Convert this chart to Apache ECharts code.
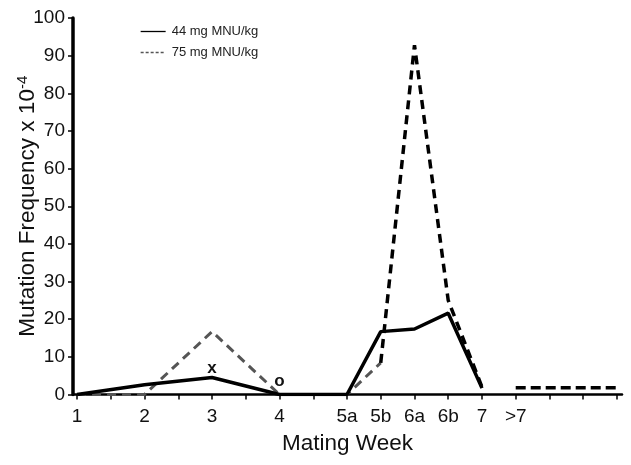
<!DOCTYPE html>
<html><head><meta charset="utf-8">
<script src="https://cdn.jsdelivr.net/npm/echarts@6/dist/echarts.min.js"></script>
<style>html,body{margin:0;padding:0;background:#fff}#c{width:631px;height:465px}</style>
</head><body><div id="c"></div>
<script>
// Mating week categories and their positions on the (half-week) axis scale
const weekLabels = ['1', '2', '3', '4', '5a', '5b', '6a', '6b', '7', '>7'];
const weekPos = [0, 2, 4, 6, 8, 9, 10, 11, 12, 13];
const axisTicks = [0, 1, 2, 3, 4, 5, 6, 7, 8, 9, 10, 11, 12, 13, 14, 15, 16];
const yTicks = [0, 10, 20, 30, 40, 50, 60, 70, 80, 90, 100];
// Mutation frequency x 10^-4
const dose44 = [0, 2.6, 4.5, 0, 0, 16.7, 17.4, 21.6, 1.7, null];
const dose75 = [0, 0, 16.7, 0, 0, 8.4, 92.8, 25, 2, null];
// >7 weeks, 75 mg: flat segment to end of axis
const tail75Pos = [13, 16];
const tail75 = [1.8, 1.8];
// annotations on 44 mg line
const notes44 = { '3': 'x', '4': 'o' };

const FONT = 'Liberation Sans, Arial, sans-serif';
const name44 = '44 mg MNU/kg', name75 = '75 mg MNU/kg';

function pts(vals, from, to) {
  const out = [];
  for (let i = from; i <= to; i++) if (vals[i] != null) out.push([weekPos[i], vals[i]]);
  return out;
}
const data44 = [];
dose44.forEach((v, i) => {
  if (v == null) return;
  const note = notes44[weekLabels[i]];
  const item = { value: [weekPos[i], v] };
  if (note) item.label = { show: true, formatter: note, position: 'top', distance: note === 'o' ? 5 : 1,
    fontSize: 17, fontWeight: 'bold', color: '#111', fontFamily: FONT };
  data44.push(item);
});
const labelMap = {};
weekPos.forEach((p, i) => labelMap[p] = weekLabels[i]);

const chart = echarts.init(document.getElementById('c'), null, { renderer: 'canvas' });
chart.setOption({
  animation: false,
  backgroundColor: '#fff',
  grid: { left: 73, right: 9, top: 18, bottom: 70.5, containLabel: false, outerBoundsMode: 'none' },
  legend: {
    data: [
      { name: name44, lineStyle: { color: '#000', width: 1.3, type: 'solid' } },
      { name: name75, lineStyle: { color: '#555', width: 1.3, type: [3, 2] } }
    ],
    orient: 'vertical', left: 135, top: 20,
    itemWidth: 25, itemHeight: 10, itemGap: 8,
    textStyle: { fontSize: 13, color: '#222', fontFamily: FONT, padding: [0, 0, 0, 1] },
    itemStyle: { opacity: 0, borderWidth: 0 }
  },
  xAxis: {
    type: 'value', min: -0.12, max: 16.15,
    name: 'Mating Week', nameLocation: 'middle', nameGap: 38,
    nameTextStyle: { fontSize: 22.5, color: '#111', fontFamily: FONT },
    axisLine: { show: true, onZero: false, lineStyle: { color: '#000', width: 2.5 } },
    axisTick: { show: true, customValues: axisTicks, length: 5, lineStyle: { color: '#000', width: 1.5 } },
    axisLabel: { customValues: weekPos, formatter: v => labelMap[v] ?? '', fontSize: 19, color: '#111', fontFamily: FONT, margin: 13 },
    splitLine: { show: false }
  },
  yAxis: {
    type: 'value', min: 0, max: 100, interval: 10,
    name: 'Mutation Frequency x 10{sup|-4}', nameLocation: 'middle', nameGap: 32, nameRotate: 90,
    nameMoveOverlap: false,
    nameTextStyle: { fontSize: 22.5, color: '#111', fontFamily: FONT,
      rich: { sup: { fontSize: 15, verticalAlign: 'top', padding: [0, 0, 11, 0], color: '#111', fontFamily: FONT } } },
    axisLine: { show: true, onZero: false, lineStyle: { color: '#000', width: 3.5 } },
    axisTick: { show: true, length: 5, lineStyle: { color: '#000', width: 1.5 } },
    axisLabel: { fontSize: 19, color: '#111', fontFamily: FONT, margin: 8,
      formatter: v => yTicks.includes(v) ? String(v) : '' },
    splitLine: { show: false }
  },
  series: [
    { name: name75, type: 'line', symbol: 'none', z: 2,
      data: pts(dose75, 0, 5),
      lineStyle: { color: '#555', width: 3, type: [9, 6] }, itemStyle: { color: '#555' } },
    { name: name75, type: 'line', symbol: 'none', z: 2,
      data: pts(dose75, 5, 8),
      lineStyle: { color: '#000', width: 3.5, type: [9, 6] }, itemStyle: { color: '#000' } },
    { name: name75, type: 'line', symbol: 'none', z: 2,
      data: tail75Pos.map((p, i) => [p, tail75[i]]),
      lineStyle: { color: '#000', width: 3.5, type: [10, 5] }, itemStyle: { color: '#000' } },
    { name: name44, type: 'line', symbol: 'circle', symbolSize: 0.1, showSymbol: true, z: 3,
      data: data44,
      lineStyle: { color: '#000', width: 3.5 }, itemStyle: { color: '#000' } }
  ]
});
</script></body></html>
